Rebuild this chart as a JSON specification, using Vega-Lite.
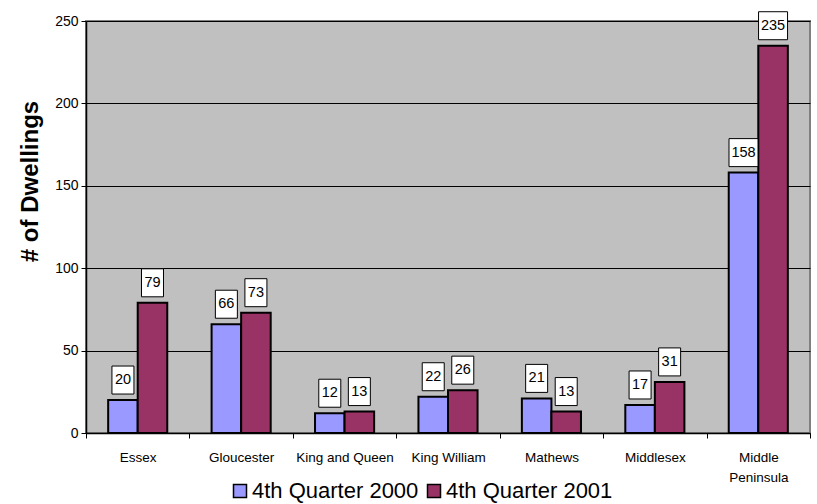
{
  "$schema": "https://vega.github.io/schema/vega-lite/v6.json",
  "autosize": "none",
  "padding": {"left": 86, "top": 21, "right": 7, "bottom": 71},
  "width": 724,
  "height": 412,
  "background": "white",
  "config": {
    "font": "Liberation Sans",
    "view": {"fill": "#C0C0C0", "stroke": "#808080", "strokeWidth": 2}
  },
  "data": {
    "values": [
      {"county": "Essex", "year": "4th Quarter 2000", "value": 20},
      {"county": "Essex", "year": "4th Quarter 2001", "value": 79},
      {"county": "Gloucester", "year": "4th Quarter 2000", "value": 66},
      {"county": "Gloucester", "year": "4th Quarter 2001", "value": 73},
      {"county": "King and Queen", "year": "4th Quarter 2000", "value": 12},
      {"county": "King and Queen", "year": "4th Quarter 2001", "value": 13},
      {"county": "King William", "year": "4th Quarter 2000", "value": 22},
      {"county": "King William", "year": "4th Quarter 2001", "value": 26},
      {"county": "Mathews", "year": "4th Quarter 2000", "value": 21},
      {"county": "Mathews", "year": "4th Quarter 2001", "value": 13},
      {"county": "Middlesex", "year": "4th Quarter 2000", "value": 17},
      {"county": "Middlesex", "year": "4th Quarter 2001", "value": 31},
      {"county": "Middle Peninsula", "year": "4th Quarter 2000", "value": 158},
      {"county": "Middle Peninsula", "year": "4th Quarter 2001", "value": 235}
    ]
  },
  "encoding": {
    "x": {
      "field": "county",
      "type": "nominal",
      "sort": null,
      "scale": {"paddingInner": 0, "paddingOuter": 0},
      "axis": {
        "title": null,
        "labelAngle": 0,
        "labelFontSize": 13.5,
        "labelColor": "black",
        "labelBaseline": "top",
        "labelPadding": 12,
        "labelLineHeight": 20,
        "labelExpr": "datum.label == 'Middle Peninsula' ? ['Middle', 'Peninsula'] : datum.label",
        "tickBand": "extent",
        "tickSize": 5,
        "tickColor": "black",
        "domainColor": "black",
        "domainWidth": 1.5
      }
    },
    "xOffset": {
      "field": "year",
      "type": "nominal",
      "scale": {"paddingInner": 0, "paddingOuter": 0.75}
    },
    "y": {
      "field": "value",
      "type": "quantitative",
      "scale": {"domain": [0, 250], "nice": false},
      "axis": {
        "title": "# of Dwellings",
        "titleFontSize": 24,
        "titleFontWeight": "bold",
        "titleColor": "black",
        "titleAngle": -90,
        "titleX": -56,
        "titleY": 160,
        "titleAlign": "center",
        "titleBaseline": "middle",
        "values": [0, 50, 100, 150, 200, 250],
        "labelFontSize": 14,
        "labelColor": "black",
        "labelPadding": 3,
        "tickSize": 5,
        "tickColor": "black",
        "domainColor": "black",
        "domainWidth": 1.5,
        "grid": true,
        "gridColor": "black",
        "gridWidth": 1
      }
    }
  },
  "layer": [
    {
      "mark": {"type": "bar", "stroke": "black", "strokeWidth": 2},
      "encoding": {
        "color": {
          "field": "year",
          "type": "nominal",
          "scale": {"domain": ["4th Quarter 2000", "4th Quarter 2001"], "range": ["#9999FF", "#993366"]},
          "legend": {
            "title": null,
            "orient": "none",
            "direction": "horizontal",
            "legendX": 143,
            "legendY": 459,
            "padding": 0,
            "symbolType": "square",
            "symbolSize": 169,
            "symbolStrokeColor": "black",
            "symbolStrokeWidth": 1.5,
            "symbolOpacity": 1,
            "labelFontSize": 22,
            "labelColor": "black",
            "labelOffset": 1,
            "columnPadding": 4,
            "labelLimit": 300
          }
        }
      }
    },
    {
      "mark": {"type": "point", "filled": true, "fill": "white", "stroke": "black", "strokeWidth": 1, "opacity": 1, "size": 400},
      "encoding": {
        "shape": {
          "condition": {"test": "datum.value >= 100", "value": "M-1.45,-3.4L1.45,-3.4L1.45,-0.6L-1.45,-0.6Z"},
          "value": "M-1.1,-3.4L1.1,-3.4L1.1,-0.6L-1.1,-0.6Z"
        }
      }
    },
    {
      "mark": {"type": "text", "dy": -20, "baseline": "middle", "align": "center", "fontSize": 14.5, "color": "black"},
      "encoding": {
        "text": {"field": "value", "type": "quantitative"}
      }
    }
  ]
}
